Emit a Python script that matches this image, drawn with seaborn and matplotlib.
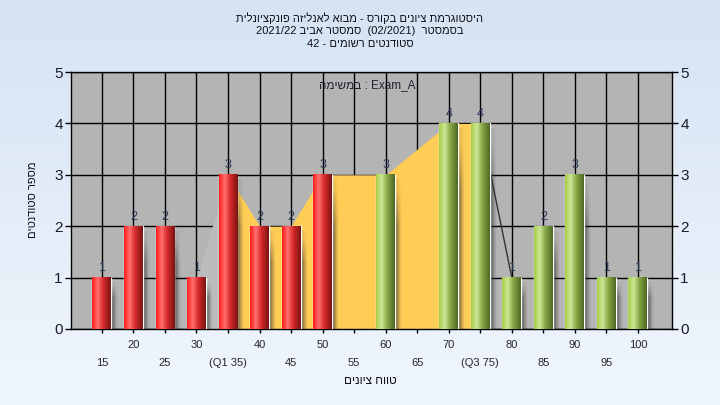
import numpy as np
import matplotlib
matplotlib.use("Agg")
import matplotlib.pyplot as plt
import seaborn as sns
import pandas as pd

# ── DATA ────────────────────────────────────────────────────
scores = [15, 20, 25, 30, 35, 40, 45, 50, 55, 60, 65, 70, 75, 80, 85, 90, 95, 100]
counts = [1, 2, 2, 1, 3, 2, 2, 3, 0, 3, 0, 4, 4, 1, 2, 3, 1, 1]
tick_labels = ["15", "20", "25", "30", "(Q1 35)", "40", "45", "50", "55",
               "60", "65", "70", "(Q3 75)", "80", "85", "90", "95", "100"]
Q1, Q3 = 35, 75
PASS_FROM = 55

title_lines = ["היסטוגרמת ציונים בקורס - מבוא לאנליזה פונקציונלית",
               "בסמסטר  (02/2021)  סמסטר אביב 2021/22",
               "סטודנטים רשומים - 42"]
note_text = "Exam_A : במשימה"
x_title = "טווח ציונים"
y_title = "מספר סטודנטים"


def vis(s):
    # matplotlib has no bidi: put hebrew text in visual order
    out = []
    for t in reversed(s.split(" ")):
        if any("\u0590" <= c <= "\u05ff" for c in t):
            t = t[::-1]
        out.append(t)
    return " ".join(out)


def gradient(stops, n=64):
    pos = np.array([p for p, _ in stops])
    cols = np.array([matplotlib.colors.to_rgb(c) for _, c in stops])
    t = np.linspace(0, 1, n)
    return np.stack([np.interp(t, pos, cols[:, k]) for k in range(3)], axis=1)


RED = gradient([(0, "#ff1a1a"), (0.3, "#ff7070"), (0.6, "#d62a2a"), (1, "#7a1414")])
GREEN = gradient([(0, "#a4cc48"), (0.3, "#cbe895"), (0.6, "#86a845"), (1, "#4e6824")])

# ── SETTINGS ────────────────────────────────────────────────
sns.set_theme(style="white")
plt.rcParams["font.family"] = ["Liberation Sans", "DejaVu Sans"]

fig = plt.figure(figsize=(7.2, 4.05), dpi=100)

# background gradient
bg = fig.add_axes([0, 0, 1, 1], zorder=-10)
bg_col = gradient([(0, "#d5e3f3"), (1, "#f0f6fd")], 100)
bg.imshow(bg_col[:, np.newaxis, :], aspect="auto", extent=[0, 1, 0, 1], origin="upper")
bg.axis("off")

ax = fig.add_axes([71 / 720, 1 - 329 / 405, 601 / 720, 257 / 405])
ax.set_facecolor("#b4b4b4")

df = pd.DataFrame({"score": scores, "count": counts})
df["group"] = np.where(df["score"] < PASS_FROM, "fail", "pass")
sns.barplot(data=df, x="score", y="count", hue="group", native_scale=True,
            width=0.6, palette={"fail": "#e02828", "pass": "#9cc050"},
            legend=False, ax=ax, zorder=3)

# interquartile area (skips empty bins)
nz = [(s, c) for s, c in zip(scores, counts) if c > 0]
area_in = [(s, c) for s, c in nz if Q1 <= s <= Q3]
ax.fill_between([s for s, _ in area_in], [c for _, c in area_in],
                color="#ffcc55", zorder=1.5, lw=0)
before = [(s, c) for s, c in nz if s < Q1][-1:] + area_in[:1]
ax.fill_between([s for s, _ in before], [c for _, c in before],
                color="#bcbcbc", zorder=1.4, lw=0)
after = area_in[-1:] + [(s, c) for s, c in nz if s > Q3][:1]
ax.plot([s for s, _ in after], [c for _, c in after], color="#333333",
        lw=1, zorder=1.6)

# gradient bars + shadows
for p in list(ax.patches):
    h = p.get_height()
    x0 = p.get_x()
    w = p.get_width()
    if h <= 0:
        p.set_visible(False)
        continue
    cx = x0 + w / 2
    grad = RED if cx < PASS_FROM else GREEN
    ax.imshow(grad[np.newaxis, :, :], extent=[x0, x0 + w, 0, h], aspect="auto",
              interpolation="bilinear", zorder=3.2)
    sh = np.zeros((8, 32, 4))
    sh[..., :3] = 0.18
    fade_x = np.linspace(0.85, 0.0, 32) ** 1.3
    fade_y = np.concatenate([np.linspace(0.2, 1, 3), np.ones(5)])
    sh[..., 3] = fade_y[:, None] * fade_x[None, :]
    ax.imshow(sh, extent=[x0 + w, x0 + w + 1.0, -0.1, h - 0.1], aspect="auto",
              origin="upper", interpolation="bilinear", zorder=2.9)
    ax.text(cx, h + 0.07, f"{int(h)}", ha="center", va="bottom",
            fontsize=9, color="#2a3a5a", zorder=5)

# axes, ticks and grid
ax.set_xlim(10.1, 105.4)
ax.set_ylim(0, 5)
ax.set_yticks(range(0, 6))
upper = [(s, l) for i, (s, l) in enumerate(zip(scores, tick_labels)) if i % 2 == 1]
lower = [(s, l) for i, (s, l) in enumerate(zip(scores, tick_labels)) if i % 2 == 0]
ax.set_xticks([s for s, _ in upper], [l for _, l in upper])
ax.set_xticks([s for s, _ in lower], [l for _, l in lower], minor=True)
ax.tick_params(axis="x", which="major", length=3, width=1, color="black",
               pad=5, labelsize=8, bottom=True)
ax.tick_params(axis="x", which="minor", length=3, width=1, color="black",
               pad=18, labelsize=8, bottom=True)
ax.tick_params(axis="y", length=4, width=1, color="black", pad=2,
               labelsize=11, left=True, right=True, labelright=True,
               labelcolor="#1a1a2a")
ax.grid(True, which="both", color="black", lw=1, zorder=0.5)
ax.set_axisbelow(True)
for sp in ax.spines.values():
    sp.set_color("black")
    sp.set_linewidth(1)
ax.set_xlabel("")
ax.set_ylabel("")

# texts
for i, line in enumerate(title_lines):
    fig.text(360 / 720, 1 - (18 + 13 * i) / 405, vis(line), ha="center",
             va="center", fontsize=8, color="#101018")
fig.text(367 / 720, 1 - 85 / 405, vis(note_text), ha="center", va="center",
         fontsize=8.5, color="#202030")
fig.text(370 / 720, 1 - 381 / 405, vis(x_title), ha="center", va="center",
         fontsize=8.5, color="#101018")
fig.text(33 / 720, 1 - 200 / 405, vis(y_title), ha="center", va="center",
         fontsize=8, rotation=90, color="#101018")

fig.savefig("out.png", dpi=100)
